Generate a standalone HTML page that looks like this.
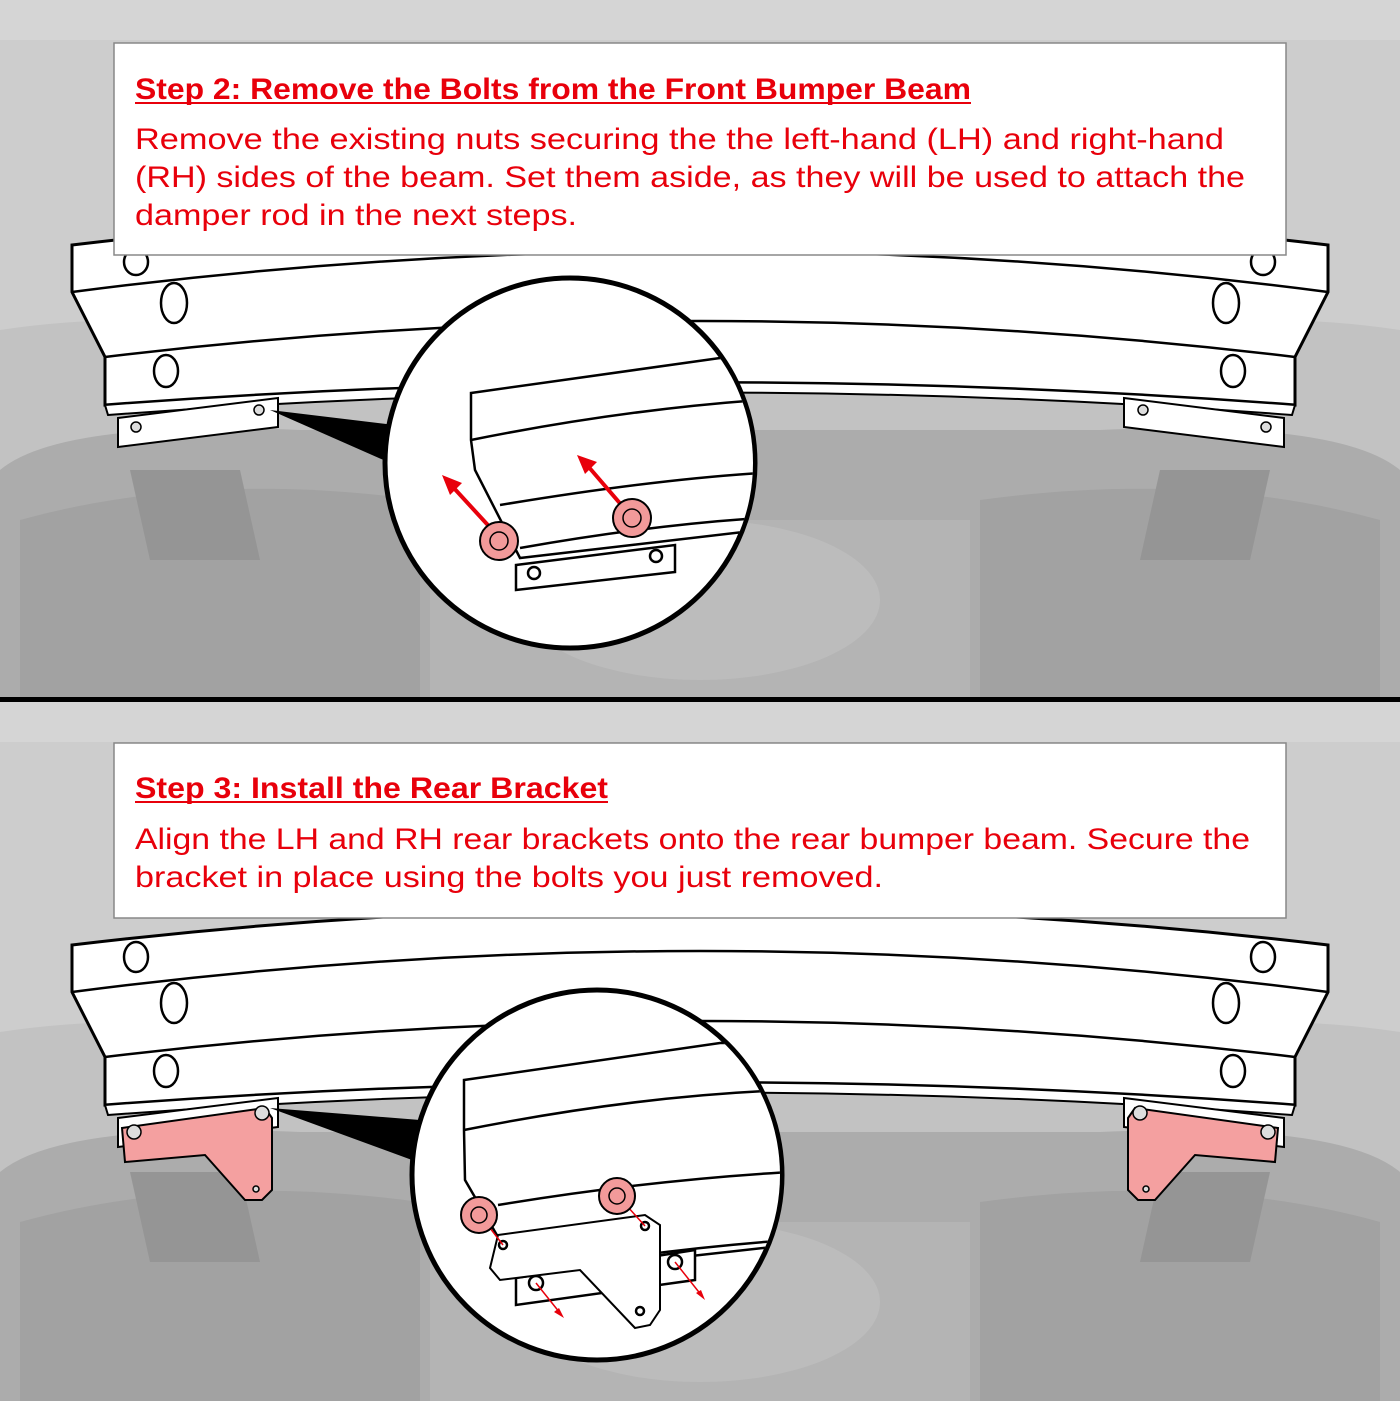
<!DOCTYPE html>
<html><head><meta charset="utf-8"><style>
html,body{margin:0;padding:0;background:#c8c8c8}
svg{display:block}
text{font-family:"Liberation Sans",sans-serif;fill:#e8000b}
</style></head><body>
<svg width="1400" height="1401" viewBox="0 0 1400 1401" xmlns="http://www.w3.org/2000/svg">
<defs>
<clipPath id="c1"><circle cx="570" cy="463" r="183"/></clipPath>
<clipPath id="c2"><circle cx="597" cy="1175" r="183"/></clipPath>
<clipPath id="p1"><rect x="0" y="0" width="1400" height="697"/></clipPath>
<clipPath id="p2"><rect x="0" y="702" width="1400" height="699"/></clipPath>
<g id="bg">
<rect x="0" y="0" width="1400" height="700" fill="#cdcdcd"/>
<rect x="0" y="0" width="1400" height="40" fill="#d5d5d5"/>
<path d="M0 330 Q200 300 400 360 L1000 360 Q1200 300 1400 330 L1400 700 L0 700Z" fill="#c2c2c2"/>
<path d="M0 470 Q60 420 300 430 L1100 430 Q1340 420 1400 470 L1400 700 L0 700Z" fill="#acacac"/>
<path d="M20 520 Q200 470 420 500 L420 700 L20 700Z" fill="#a2a2a2"/>
<path d="M980 500 Q1200 470 1380 520 L1380 700 L980 700Z" fill="#a2a2a2"/>
<rect x="430" y="520" width="540" height="180" fill="#b4b4b4"/>
<ellipse cx="700" cy="600" rx="180" ry="80" fill="#bcbcbc"/>
<path d="M130 470 L240 470 L260 560 L150 560Z" fill="#959595"/>
<path d="M1160 470 L1270 470 L1250 560 L1140 560Z" fill="#959595"/>
</g>
</defs>

<!-- TOP PANEL -->
<g clip-path="url(#p1)">
<use href="#bg"/>
<path d="M72 245 Q700 170 1328 245 L1328 292 L1295 357 L1295 405 Q700 360 105 405 L105 357 L72 292Z" fill="#fff" stroke="#000" stroke-width="3"/>
<path d="M72 292 Q700 210 1328 292" fill="none" stroke="#000" stroke-width="2.5"/>
<path d="M105 357 Q700 285 1295 357" fill="none" stroke="#000" stroke-width="2.5"/>
<path d="M108 415 Q700 370 1292 415 L1295 405 Q700 360 105 405Z" fill="#fff" stroke="#000" stroke-width="2"/>
<path d="M118 418 L278 398 L278 427 L118 447Z" fill="#fff" stroke="#000" stroke-width="2"/>
<path d="M1124 398 L1284 418 L1284 447 L1124 427Z" fill="#fff" stroke="#000" stroke-width="2"/>
<circle cx="136" cy="427" r="5" fill="#ddd" stroke="#000" stroke-width="1.5"/>
<circle cx="259" cy="410" r="5" fill="#ddd" stroke="#000" stroke-width="1.5"/>
<circle cx="1143" cy="410" r="5" fill="#ddd" stroke="#000" stroke-width="1.5"/>
<circle cx="1266" cy="427" r="5" fill="#ddd" stroke="#000" stroke-width="1.5"/>
<g fill="#fff" stroke="#000" stroke-width="2.5">
<ellipse cx="136" cy="262" rx="12" ry="13"/><ellipse cx="174" cy="303" rx="13" ry="20"/><ellipse cx="166" cy="371" rx="12" ry="16"/>
<ellipse cx="1263" cy="262" rx="12" ry="13"/><ellipse cx="1226" cy="303" rx="13" ry="20"/><ellipse cx="1233" cy="371" rx="12" ry="16"/>
</g>
<path d="M270 410 L395 425 L388 462Z" fill="#000"/>
<circle cx="570" cy="463" r="185" fill="#fff" stroke="#000" stroke-width="5"/>
<g clip-path="url(#c1)" stroke="#000" stroke-width="2.5" fill="#fff">
<path d="M471 393 L720 358 L760 360 L760 530 L520 558 L475 470 L471 440Z"/>
<path d="M471 440 Q620 410 760 400" fill="none"/>
<path d="M500 505 Q650 480 760 473" fill="none"/>
<path d="M520 548 Q650 525 760 518" fill="none"/>
<path d="M516 565 L675 545 L675 572 L516 590Z"/>
<circle cx="534" cy="573" r="6"/><circle cx="656" cy="556" r="6"/>
</g>
<g stroke="#e8000b" stroke-width="4">
<line x1="497" y1="535" x2="452" y2="486"/><line x1="630" y1="515" x2="587" y2="465"/>
</g>
<path d="M442 475 L462 483 L450 495Z" fill="#e8000b"/>
<path d="M577 455 L597 462 L585 474Z" fill="#e8000b"/>
<g fill="#f29a9a" stroke="#000" stroke-width="2">
<circle cx="499" cy="541" r="19"/><circle cx="632" cy="518" r="19"/>
</g>
<g fill="none" stroke="#000" stroke-width="1.5"><circle cx="499" cy="541" r="9"/><circle cx="632" cy="518" r="9"/></g>
<rect x="114" y="43" width="1172" height="212" fill="#fff" stroke="#888" stroke-width="1.5"/>
<text x="135" y="99" font-size="30" font-weight="bold" textLength="836" lengthAdjust="spacingAndGlyphs">Step 2: Remove the Bolts from the Front Bumper Beam</text>
<line x1="135" y1="103" x2="971" y2="103" stroke="#e8000b" stroke-width="2"/>
<text x="135" y="149" font-size="30" textLength="1089" lengthAdjust="spacingAndGlyphs">Remove the existing nuts securing the the left-hand (LH) and right-hand</text>
<text x="135" y="187" font-size="30" textLength="1110" lengthAdjust="spacingAndGlyphs">(RH) sides of the beam. Set them aside, as they will be used to attach the</text>
<text x="135" y="225" font-size="30" textLength="442" lengthAdjust="spacingAndGlyphs">damper rod in the next steps.</text>
</g>

<rect x="0" y="697" width="1400" height="5" fill="#000"/>

<!-- BOTTOM PANEL -->
<g clip-path="url(#p2)">
<use href="#bg" y="702"/>
<path d="M72 945 Q700 870 1328 945 L1328 992 L1295 1057 L1295 1105 Q700 1060 105 1105 L105 1057 L72 992Z" fill="#fff" stroke="#000" stroke-width="3"/>
<path d="M72 992 Q700 910 1328 992" fill="none" stroke="#000" stroke-width="2.5"/>
<path d="M105 1057 Q700 985 1295 1057" fill="none" stroke="#000" stroke-width="2.5"/>
<path d="M108 1115 Q700 1070 1292 1115 L1295 1105 Q700 1060 105 1105Z" fill="#fff" stroke="#000" stroke-width="2"/>
<path d="M118 1118 L278 1098 L278 1127 L118 1147Z" fill="#fff" stroke="#000" stroke-width="2"/>
<path d="M1124 1098 L1284 1118 L1284 1147 L1124 1127Z" fill="#fff" stroke="#000" stroke-width="2"/>
<path d="M122 1128 L265 1108 L272 1118 L272 1190 L262 1200 L245 1200 L205 1155 L125 1162Z" fill="#f4a0a0" stroke="#000" stroke-width="2"/>
<path d="M1278 1128 L1135 1108 L1128 1118 L1128 1190 L1138 1200 L1155 1200 L1195 1155 L1275 1162Z" fill="#f4a0a0" stroke="#000" stroke-width="2"/>
<g fill="#ddd" stroke="#000" stroke-width="1.5">
<circle cx="134" cy="1132" r="7"/><circle cx="262" cy="1113" r="7"/><circle cx="1140" cy="1113" r="7"/><circle cx="1268" cy="1132" r="7"/>
<circle cx="256" cy="1189" r="3"/><circle cx="1146" cy="1189" r="3"/>
</g>
<g fill="#fff" stroke="#000" stroke-width="2.5">
<ellipse cx="136" cy="957" rx="12" ry="15"/><ellipse cx="174" cy="1003" rx="13" ry="20"/><ellipse cx="166" cy="1071" rx="12" ry="16"/>
<ellipse cx="1263" cy="957" rx="12" ry="15"/><ellipse cx="1226" cy="1003" rx="13" ry="20"/><ellipse cx="1233" cy="1071" rx="12" ry="16"/>
</g>
<path d="M270 1108 L420 1120 L412 1160Z" fill="#000"/>
<circle cx="597" cy="1175" r="185" fill="#fff" stroke="#000" stroke-width="5"/>
<g clip-path="url(#c2)" stroke="#000" stroke-width="2.5" fill="#fff">
<path d="M464 1080 L720 1043 L790 1043 L790 1245 L520 1275 L465 1180 L464 1130Z"/>
<path d="M464 1130 Q640 1095 790 1090" fill="none"/>
<path d="M498 1205 Q650 1180 790 1172" fill="none"/>
<path d="M515 1275 Q650 1250 790 1240" fill="none"/>
<path d="M516 1278 L695 1250 L695 1280 L516 1305Z"/>
<circle cx="675" cy="1262" r="7"/><circle cx="536" cy="1283" r="7"/>
<path d="M498 1235 L645 1215 L660 1225 L660 1310 L650 1325 L635 1328 L580 1270 L500 1280 L490 1268Z" stroke-width="2"/>
<circle cx="503" cy="1245" r="4"/><circle cx="645" cy="1226" r="4"/><circle cx="640" cy="1311" r="4"/>
</g>
<g stroke="#e8000b" stroke-width="1.5">
<line x1="480" y1="1215" x2="503" y2="1245"/><line x1="618" y1="1196" x2="645" y2="1226"/>
<line x1="536" y1="1283" x2="560" y2="1313"/><line x1="675" y1="1262" x2="702" y2="1296"/>
</g>
<path d="M564 1318 L554 1312 L559 1308Z" fill="#e8000b"/>
<path d="M705 1300 L696 1293 L701 1290Z" fill="#e8000b"/>
<g fill="#f29a9a" stroke="#000" stroke-width="2">
<circle cx="479" cy="1215" r="18"/><circle cx="617" cy="1196" r="18"/>
</g>
<g fill="none" stroke="#000" stroke-width="1.5"><circle cx="479" cy="1215" r="8"/><circle cx="617" cy="1196" r="8"/></g>
<rect x="114" y="743" width="1172" height="175" fill="#fff" stroke="#888" stroke-width="1.5"/>
<text x="135" y="798" font-size="30" font-weight="bold" textLength="473" lengthAdjust="spacingAndGlyphs">Step 3: Install the Rear Bracket</text>
<line x1="135" y1="802" x2="608" y2="802" stroke="#e8000b" stroke-width="2"/>
<text x="135" y="849" font-size="30" textLength="1115" lengthAdjust="spacingAndGlyphs">Align the LH and RH rear brackets onto the rear bumper beam. Secure the</text>
<text x="135" y="887" font-size="30" textLength="748" lengthAdjust="spacingAndGlyphs">bracket in place using the bolts you just removed.</text>
</g>
</svg>
</body></html>
